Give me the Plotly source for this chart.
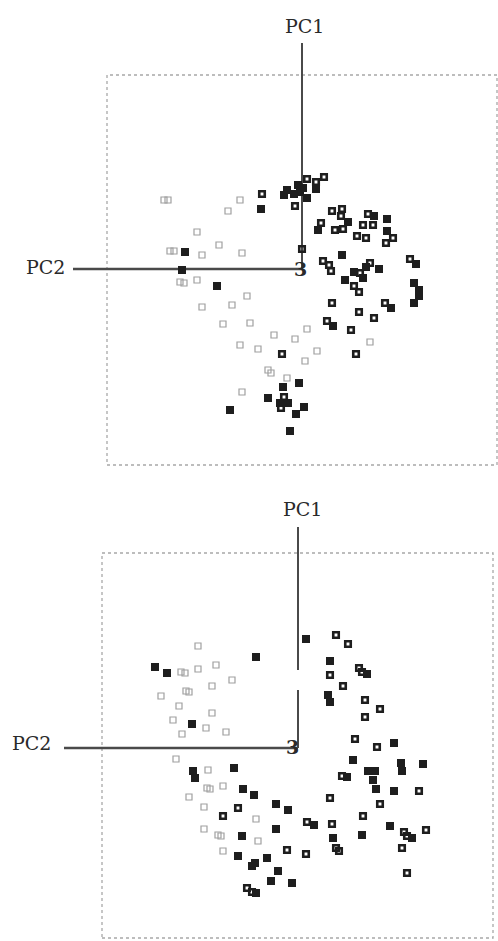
import plotly.graph_objects as go

# ---------------- Data (PC scores) ----------------
# Top panel
top_gray_pc2 = [-13.8, -13.4, -6.2, -7.4, -10.5, -13.2, -12.8, -10.0, -8.3, -6.0, -12.2, -11.8, -10.5, -5.5, -7.0,
                -10.0, -7.9, -5.2, -2.8, -0.7, 0.5, -6.2, -4.4, 1.5, 0.3, 6.8, -3.4, -3.1, -1.5, -6.0]
top_gray_pc1 = [6.9, 6.9, 6.9, 5.8, 3.7, 1.8, 1.8, 1.4, 2.4, 1.6, -1.3, -1.4, -1.1, -2.7, -3.6,
                -3.8, -5.5, -5.4, -6.6, -7.0, -6.0, -7.6, -8.0, -8.2, -9.2, -7.3, -10.1, -10.4, -10.9, -12.3]

top_open_pc2 = [-4.0, 0.5, 1.4, 2.2, -0.7, 3.0, 4.0, 3.9, 1.9, 3.3, 4.1, 6.6, 6.1, 7.1, 5.5, 6.4, 9.1, 8.4, 0.0,
                2.1, 2.7, 2.9, 6.8, 5.8, 5.2, 5.7, 10.8, 2.5, 3.0, 5.7, 7.2, 8.3, 4.9, -2.0, 5.4, -1.8, -2.1]
top_open_pc1 = [7.5, 9.0, 8.7, 9.2, 6.3, 5.8, 6.0, 5.3, 4.6, 3.9, 4.0, 5.5, 4.4, 4.4, 3.3, 3.1, 3.1, 2.6, 2.0,
                0.8, 0.4, -0.2, 0.6, -0.4, -1.7, -2.3, 1.0, -5.2, -3.4, -4.3, -4.9, -3.4, -6.1, -8.5, -8.5, -12.8, -13.9]

top_fill_pc2 = [-4.1, -1.8, -1.5, -0.4, -0.2, -0.8, 0.5, 1.4, 0.1, 4.6, 1.6, 7.2, 8.5, 8.5, 4.0, -12.0, -11.7,
                -8.5, 5.2, 6.4, 7.7, 6.1, 4.3, 11.4, 11.2, 11.7, 11.7, 3.1, 8.9, 11.2, -1.9, -0.3, -3.4, -2.2,
                -1.4, 0.2, -0.6, -7.2, -1.2]
top_fill_pc1 = [6.0, 7.4, 7.9, 8.4, 7.7, 7.5, 7.1, 8.0, 8.1, 4.7, 3.9, 5.3, 5.0, 3.8, 1.4, -0.1, 1.7,
                -1.7, -0.3, 0.2, 0.0, -0.9, -1.1, 0.5, -1.4, -2.1, -2.7, -5.7, -3.9, -3.4, -11.8, -11.4, -12.9, -13.4,
                -13.4, -13.8, -14.5, -14.1, -16.2]

# Bottom panel
bot_gray_pc2 = [-10.0, -11.7, -11.3, -10.0, -8.2, -6.6, -8.6, -11.2, -10.9, -13.7, -11.9, -8.6, -12.5, -9.2, -7.2,
                -11.6, -12.2, -9.0, -9.1, -8.8, -7.5, -10.9, -9.4, -4.2, -9.4, -8.0, -7.7, -4.0, -7.5]
bot_gray_pc1 = [10.2, 7.6, 7.5, 7.9, 8.3, 6.8, 6.2, 5.7, 5.6, 5.2, 4.2, 3.5, 2.8, 2.0, 1.6,
                1.4, -1.1, -2.2, -4.0, -4.1, -3.8, -4.9, -5.9, -7.1, -8.1, -8.7, -8.8, -9.3, -10.3]

bot_open_pc2 = [3.8, 5.0, 3.2, 4.5, 6.1, 6.4, 6.7, 8.2, 6.7, 5.7, 7.9, -6.0, -7.5, 0.9, -1.1, 0.8, -5.1, -4.6,
                4.4, 12.1, 3.2, 8.2, 6.5, 3.4, 10.6, 10.9, 12.8, 3.8, 4.1, 10.4, 10.9]
bot_open_pc1 = [11.3, 10.4, 7.3, 6.2, 8.0, 7.6, 4.8, 3.9, 3.1, 0.9, 0.1, -6.0, -6.8, -7.4, -10.2, -10.6, -14.0, -14.4,
                -2.8, -4.3, -5.0, -5.6, -6.8, -7.6, -8.4, -8.8, -8.2, -10.0, -10.3, -10.0, -12.5]

bot_fill_pc2 = [0.8, -4.2, -14.3, -13.1, 3.2, 6.9, 3.0, 3.2, -10.6, 9.6, -10.5, -10.3, -6.4, -5.5, -4.4, -2.2,
                -1.0, -5.6, -2.2, 1.6, -6.0, -3.1, -4.3, -4.6, -2.0, -2.7, -0.6, -4.2, 5.5, 10.3, 10.4, 12.5,
                7.0, 7.7, 4.9, 7.5, 7.8, 9.6, 9.2, 11.4, 3.5, 6.4]
bot_fill_pc1 = [10.9, 9.1, 8.1, 7.5, 8.7, 7.4, 5.3, 4.6, 2.4, 0.5, -2.3, -3.0, -2.0, -4.1, -4.7, -5.6,
                -6.2, -8.8, -8.1, -7.7, -10.8, -11.0, -11.5, -11.8, -12.3, -13.3, -13.5, -14.5, -1.2, -1.5, -2.3, -1.6,
                -2.3, -2.3, -2.9, -3.2, -4.1, -4.3, -7.8, -9.0, -9.0, -8.7]

# Axis-line extents and frame extents (in PC units)
TOP_PC1_LEN = 22.6
TOP_PC2_LEN = -22.9
BOT_PC1_SEGS = [(22.1, 7.8), (5.8, 0.0)]
BOT_PC2_LEN = -23.4
TOP_BOX = (-19.5, 19.5, -19.6, 19.4)
BOT_BOX = (-19.6, 19.5, -19.0, 19.5)

GRAY = "#a0a0a0"
DARK = "#1e1e1e"
LINE = "#4a4a4a"
FONT = "DejaVu Serif"

fig = go.Figure()


def add_points(xs, ys, kind, xa, ya):
    if kind == "gray":
        m = dict(symbol="square-open", size=6, color=GRAY, line=dict(width=1.2, color=GRAY))
    elif kind == "open":
        m = dict(symbol="square-open", size=5.5, color=DARK, line=dict(width=2.6, color=DARK))
    else:
        m = dict(symbol="square", size=8, color=DARK, line=dict(width=0))
    fig.add_trace(go.Scatter(x=xs, y=ys, mode="markers", marker=m, xaxis=xa, yaxis=ya,
                             showlegend=False, hoverinfo="skip"))


def add_line(xs, ys, xa, ya, width=2):
    fig.add_trace(go.Scatter(x=xs, y=ys, mode="lines", line=dict(color=LINE, width=width),
                             xaxis=xa, yaxis=ya, showlegend=False, hoverinfo="skip"))


# Top panel
add_line([0, 0], [0, TOP_PC1_LEN], "x", "y")
add_line([TOP_PC2_LEN, 0], [0, 0], "x", "y", 2.4)
add_points(top_gray_pc2, top_gray_pc1, "gray", "x", "y")
add_points(top_open_pc2, top_open_pc1, "open", "x", "y")
add_points(top_fill_pc2, top_fill_pc1, "fill", "x", "y")

# Bottom panel
bx, by = [], []
for a, b in BOT_PC1_SEGS:
    bx += [0, 0, None]
    by += [a, b, None]
add_line(bx, by, "x2", "y2")
add_line([BOT_PC2_LEN, 0], [0, 0], "x2", "y2", 2.4)
add_points(bot_gray_pc2, bot_gray_pc1, "gray", "x2", "y2")
add_points(bot_open_pc2, bot_open_pc1, "open", "x2", "y2")
add_points(bot_fill_pc2, bot_fill_pc1, "fill", "x2", "y2")

shapes = []
for box, xr, yr in [(TOP_BOX, "x", "y"), (BOT_BOX, "x2", "y2")]:
    shapes.append(dict(type="rect", xref=xr, yref=yr, x0=box[0], x1=box[1], y0=box[2], y1=box[3],
                       line=dict(color="#a8a8a8", width=1.3, dash="3px,3px"), layer="below"))

annots = []
for xr, yr, pc1_pos, pc2_pos, three_pos in [
    ("x", "y", (0.2, 24.3), (-25.7, 0.2), (-0.2, 0.0)),
    ("x2", "y2", (0.4, 23.9), (-26.7, 0.5), (-0.6, 0.1)),
]:
    annots.append(dict(x=pc1_pos[0], y=pc1_pos[1], xref=xr, yref=yr, text="PC1", showarrow=False,
                       font=dict(family=FONT, size=19, color="#2a2a2a")))
    annots.append(dict(x=pc2_pos[0], y=pc2_pos[1], xref=xr, yref=yr, text="PC2", showarrow=False,
                       font=dict(family=FONT, size=19, color="#2a2a2a")))
    annots.append(dict(x=three_pos[0], y=three_pos[1], xref=xr, yref=yr, text="<b>3</b>", showarrow=False,
                       font=dict(family=FONT, size=19, color="#2a2a2a")))

ax = dict(visible=False, showgrid=False, zeroline=False, fixedrange=True)
split = 1 - 480 / 941
fig.update_layout(
    width=498, height=941,
    margin=dict(l=0, r=0, t=0, b=0),
    paper_bgcolor="white", plot_bgcolor="white",
    xaxis=dict(domain=[0, 1], range=[-30.2, 19.6], anchor="y", **ax),
    yaxis=dict(domain=[split, 1], range=[-21.1, 26.9], anchor="x", **ax),
    xaxis2=dict(domain=[0, 1], range=[-29.8, 20.0], anchor="y2", **ax),
    yaxis2=dict(domain=[0, split], range=[-19.3, 26.8], anchor="x2", **ax),
    shapes=shapes,
    annotations=annots,
)

fig.write_html("out.html")
